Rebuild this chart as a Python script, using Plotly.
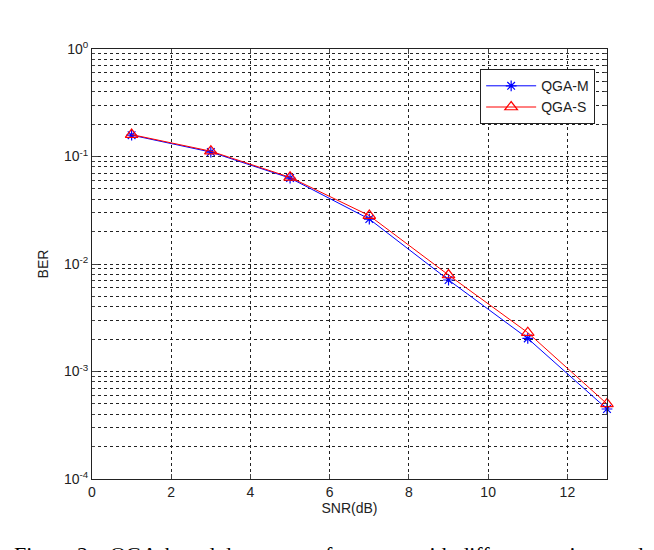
import plotly.graph_objects as go

snr = [1, 3, 5, 7, 9, 11, 13]
ber_qga_m = [0.158, 0.110, 0.063, 0.0262, 0.0071, 0.00203, 0.000448]
ber_qga_s = [0.160, 0.112, 0.064, 0.0282, 0.0079, 0.00230, 0.000500]

x_ticks = [0, 2, 4, 6, 8, 10, 12]
y_major = [1e-4, 1e-3, 1e-2, 1e-1, 1e0]
y_major_text = ["10<sup>-4</sup>", "10<sup>-3</sup>", "10<sup>-2</sup>", "10<sup>-1</sup>", "10<sup>0</sup>"]
y_minor = [m * 10 ** e for e in range(-4, 0) for m in range(2, 10)]

caption = "Figure 2.   QGA-based detector performance with different stations and"

fig = go.Figure()
fig.add_trace(go.Scatter(
    x=snr, y=ber_qga_m, name="QGA-M", mode="lines+markers",
    line=dict(color="#0000ff", width=1),
    marker=dict(symbol="asterisk-open", size=9, line=dict(color="#0000ff", width=1.2)),
    cliponaxis=False,
))
fig.add_trace(go.Scatter(
    x=snr, y=ber_qga_s, name="QGA-S", mode="lines+markers",
    line=dict(color="#ff0000", width=1),
    marker=dict(symbol="triangle-up-open", size=11, line=dict(color="#ff0000", width=1.2)),
    cliponaxis=False,
))

L, R, T, B = 83.5, 55.3, 41, 79.3
fig.update_layout(
    width=654, height=550,
    margin=dict(l=L, r=R, t=T, b=B, autoexpand=False),
    paper_bgcolor="white", plot_bgcolor="white",
    font=dict(family="Liberation Sans, Arial, sans-serif", size=14, color="#222"),
    showlegend=True,
    legend=dict(
        x=0.977, y=0.953, xanchor="right", yanchor="top",
        bgcolor="white", bordercolor="#222", borderwidth=1,
        font=dict(size=14, color="#222"),
        itemwidth=50, tracegroupgap=0,
    ),
    xaxis=dict(
        range=[0, 13], tickvals=x_ticks, ticks="inside", ticklen=5,
        showline=True, linecolor="#222", linewidth=1, mirror="ticks",
        showgrid=True, gridcolor="#222", griddash="3px,3px", gridwidth=1,
        zeroline=False,
        title=dict(text="SNR(dB)", standoff=2, font=dict(size=14)),
    ),
    yaxis=dict(
        type="log", range=[-4, 0],
        tickvals=y_major, ticktext=y_major_text, ticks="inside", ticklen=6,
        showline=True, linecolor="#222", linewidth=1, mirror="ticks",
        showgrid=True, gridcolor="#222", griddash="3px,3px", gridwidth=1,
        zeroline=False,
        minor=dict(tickmode="array", tickvals=y_minor, ticks="inside", ticklen=3,
                   showgrid=True, gridcolor="#222", griddash="3px,3px", gridwidth=1),
        title=dict(text="BER", standoff=12, font=dict(size=14)),
    ),
)

fig.add_annotation(
    text=caption, xref="paper", yref="paper", x=-0.156, y=-0.143,
    xanchor="left", yanchor="top", showarrow=False,
    font=dict(family="Liberation Serif, Times New Roman, serif", size=22, color="black"),
)

fig.write_html("out.html")
